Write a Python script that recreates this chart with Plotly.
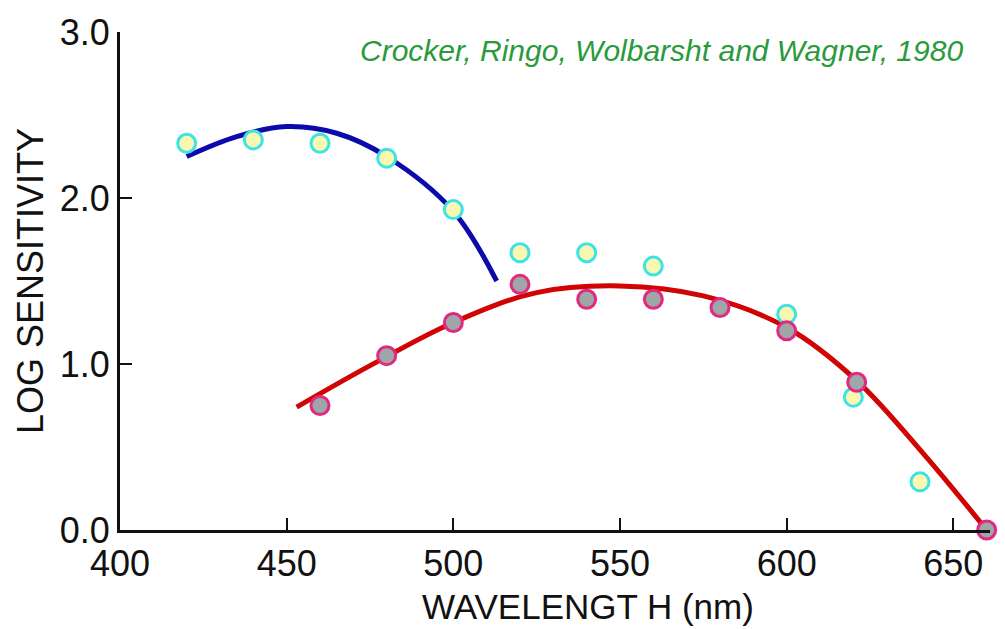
import plotly.graph_objects as go

# Measured points (wavelength in nm, log sensitivity)
blue_wl = [420, 440, 460, 480, 500, 520, 540, 560, 600, 620, 640]
blue_sens = [2.33, 2.35, 2.33, 2.24, 1.93, 1.67, 1.67, 1.59, 1.30, 0.80, 0.29]

red_wl = [460, 480, 500, 520, 540, 560, 580, 600, 621, 660]
red_sens = [0.75, 1.05, 1.25, 1.48, 1.39, 1.39, 1.34, 1.20, 0.89, 0.0]

# Fitted template curves (knots of a smooth spline)
blue_fit_wl = [420, 435, 450, 465, 480, 500, 513]
blue_fit_sens = [2.25, 2.37, 2.43, 2.39, 2.25, 1.92, 1.50]

red_fit_wl = [453, 475, 500, 525, 550, 575, 600, 621, 641, 660]
red_fit_sens = [0.74, 0.99, 1.25, 1.43, 1.47, 1.41, 1.22, 0.90, 0.46, 0.0]

x_ticks = [400, 450, 500, 550, 600, 650]
y_ticks = [0.0, 1.0, 2.0, 3.0]
y_tick_text = ["0.0", "1.0", "2.0", "3.0"]

FONT = "Liberation Sans, Arial, Helvetica, sans-serif"

fig = go.Figure()

fig.add_trace(go.Scatter(
    x=blue_fit_wl, y=blue_fit_sens, mode="lines",
    line=dict(color="#0b0bab", width=5, shape="spline", smoothing=1.0),
    hoverinfo="skip", cliponaxis=False,
))
fig.add_trace(go.Scatter(
    x=red_fit_wl, y=red_fit_sens, mode="lines",
    line=dict(color="#d10404", width=5, shape="spline", smoothing=1.0),
    hoverinfo="skip", cliponaxis=False,
))
fig.add_trace(go.Scatter(
    x=blue_wl, y=blue_sens, mode="markers",
    marker=dict(size=18, color="#f9f7b0", line=dict(color="#3fe3e6", width=3)),
    cliponaxis=False,
))
fig.add_trace(go.Scatter(
    x=red_wl, y=red_sens, mode="markers",
    marker=dict(size=18, color="#9fa6a7", line=dict(color="#e02a80", width=3)),
    cliponaxis=False,
))

fig.add_annotation(
    text="<i>Crocker, Ringo, Wolbarsht and Wagner, 1980</i>",
    xref="paper", yref="paper", x=1.0, y=1.0,
    xanchor="right", yanchor="middle", showarrow=False,
    font=dict(family=FONT, size=30, color="#2a9a3c"),
    xshift=-25, yshift=-18,
)

# x-axis title, placed a little right of the plot centre
fig.add_annotation(
    text="WAVELENGT H (nm)",
    xref="paper", yref="paper", x=0.538, y=0,
    xanchor="center", yanchor="middle", showarrow=False,
    font=dict(family=FONT, size=35, color="#111111"),
    yshift=-76,
)

fig.update_layout(
    width=1005, height=629,
    margin=dict(l=120, r=15, t=29, b=99),
    paper_bgcolor="white", plot_bgcolor="white",
    showlegend=False,
    font=dict(family=FONT, color="#111111"),
    xaxis=dict(
        range=[400, 661], tickvals=x_ticks,
        ticks="inside", ticklen=12, tickwidth=2, tickcolor="#111111",
        showline=True, linecolor="#111111", linewidth=3,
        showgrid=False, zeroline=False,
        tickfont=dict(size=36),
    ),
    yaxis=dict(
        range=[0, 3.0], tickvals=y_ticks, ticktext=y_tick_text,
        ticks="inside", ticklen=12, tickwidth=2, tickcolor="#111111",
        showline=True, linecolor="#111111", linewidth=3,
        showgrid=False, zeroline=False,
        tickfont=dict(size=36),
        title=dict(text="LOG SENSITIVITY", font=dict(size=36), standoff=6),
    ),
)

fig.write_html("out.html")
